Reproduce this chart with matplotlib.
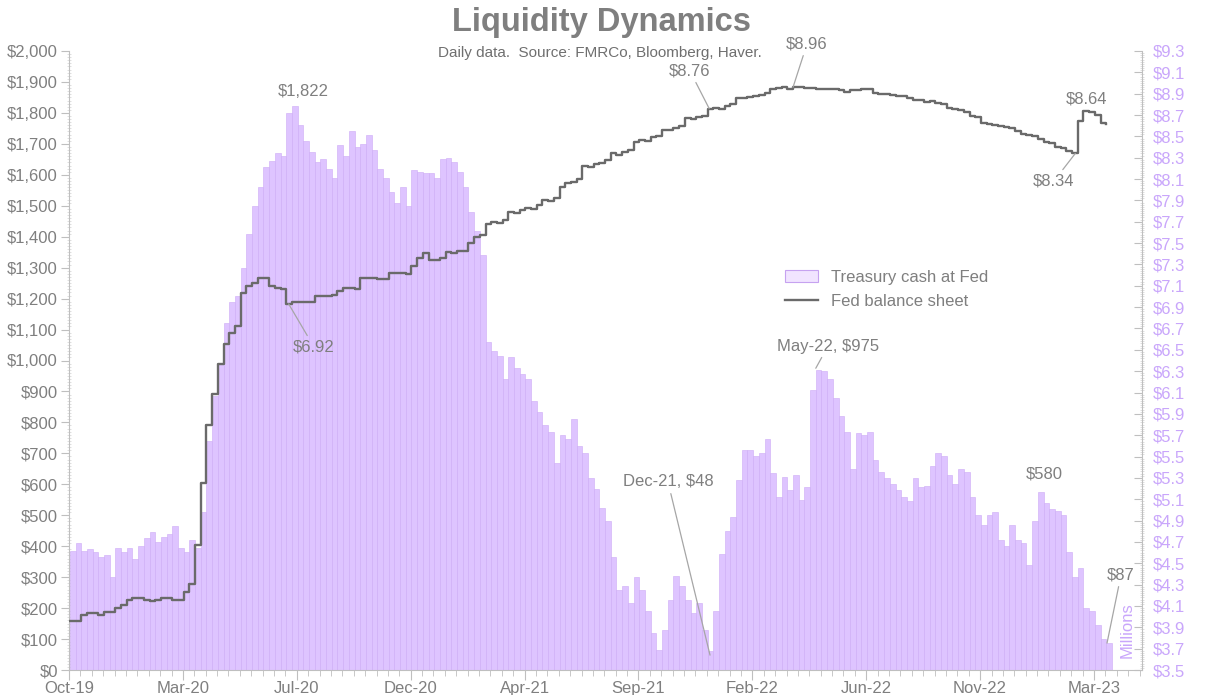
import numpy as np
import pandas as pd
import matplotlib
matplotlib.use("Agg")
import matplotlib.pyplot as plt
import matplotlib.dates as mdates
from matplotlib.patches import Patch
from matplotlib.lines import Line2D
from matplotlib.ticker import FixedLocator, MultipleLocator, FuncFormatter

plt.rcParams['font.family'] = ['Liberation Sans', 'DejaVu Sans']

# weekly readings (Wednesdays) taken off the daily chart
week_start = '2019-10-16'
n_weeks = 183

# Treasury cash at Fed, $bn
tga = [385, 410, 385, 390, 380, 365, 370, 300, 395, 380,
       395, 360, 400, 425, 445, 415, 430, 440, 465, 395,
       380, 420, 395, 510, 740, 885, 985, 1120, 1190, 1210,
       1300, 1410, 1500, 1560, 1625, 1645, 1670, 1660, 1800, 1822,
       1760, 1710, 1675, 1640, 1650, 1620, 1590, 1695, 1660, 1740,
       1690, 1700, 1730, 1680, 1620, 1590, 1545, 1510, 1560, 1500,
       1615, 1610, 1605, 1605, 1590, 1650, 1655, 1640, 1610, 1560,
       1480, 1420, 1340, 1060, 1030, 1015, 940, 1010, 975, 955,
       940, 870, 835, 790, 770, 670, 760, 745, 810, 725,
       700, 620, 585, 525, 480, 365, 260, 270, 215, 300,
       260, 190, 120, 65, 130, 225, 305, 270, 225, 185,
       215, 130, 60, 190, 375, 450, 495, 615, 710, 710,
       690, 700, 745, 635, 560, 625, 580, 630, 550, 590,
       905, 970, 965, 940, 880, 820, 770, 650, 765, 760,
       770, 680, 640, 620, 600, 580, 560, 545, 620, 590,
       595, 660, 700, 690, 630, 600, 650, 640, 560, 500,
       470, 500, 510, 420, 400, 470, 420, 410, 340, 480,
       575, 540, 520, 515, 500, 380, 300, 330, 200, 190,
       145, 100, 87]

# Fed balance sheet, $tn
fed = [3.96, 3.96, 4.02, 4.03, 4.03, 4.02, 4.04, 4.04, 4.08, 4.11,
       4.16, 4.17, 4.17, 4.16, 4.15, 4.16, 4.17, 4.17, 4.16, 4.16,
       4.23, 4.31, 4.67, 5.25, 5.80, 6.09, 6.37, 6.55, 6.66, 6.72,
       7.03, 7.10, 7.13, 7.17, 7.17, 7.10, 7.08, 7.07, 6.93, 6.95,
       6.95, 6.95, 6.95, 7.00, 7.00, 7.00, 7.01, 7.05, 7.08, 7.08,
       7.07, 7.17, 7.17, 7.17, 7.16, 7.16, 7.22, 7.22, 7.22, 7.21,
       7.29, 7.36, 7.41, 7.34, 7.34, 7.36, 7.42, 7.41, 7.43, 7.43,
       7.50, 7.56, 7.58, 7.68, 7.70, 7.69, 7.72, 7.79, 7.78, 7.81,
       7.83, 7.82, 7.86, 7.90, 7.89, 7.92, 8.03, 8.06, 8.07, 8.10,
       8.22, 8.21, 8.24, 8.25, 8.28, 8.34, 8.33, 8.35, 8.37, 8.45,
       8.47, 8.46, 8.49, 8.50, 8.56, 8.56, 8.58, 8.60, 8.67, 8.66,
       8.68, 8.69, 8.76, 8.77, 8.76, 8.78, 8.80, 8.86, 8.86, 8.87,
       8.88, 8.89, 8.91, 8.94, 8.95, 8.96, 8.94, 8.96, 8.96, 8.95,
       8.95, 8.94, 8.94, 8.94, 8.94, 8.93, 8.92, 8.93, 8.93, 8.94,
       8.94, 8.91, 8.90, 8.90, 8.89, 8.88, 8.88, 8.86, 8.84, 8.84,
       8.82, 8.83, 8.81, 8.80, 8.77, 8.76, 8.75, 8.73, 8.69, 8.68,
       8.63, 8.62, 8.61, 8.60, 8.59, 8.58, 8.55, 8.52, 8.51, 8.50,
       8.48, 8.45, 8.44, 8.40, 8.39, 8.36, 8.34, 8.64, 8.74, 8.73,
       8.70, 8.63, 8.62]

dates = pd.date_range(week_start, periods=n_weeks, freq='7D')

W, H = 1207, 695
gray = '#7f7f7f'
lav = '#c9a6fb'

fig = plt.figure(figsize=(W / 100, H / 100), dpi=100)
ax = fig.add_axes([69 / W, (H - 670) / H, (1142 - 69) / W, (670 - 51) / H])

# bars
ax.bar(dates, tga, width=7, align='edge', color='#dec4ff',
       edgecolor='#cdaaf5', linewidth=0.4, zorder=2)

x0 = pd.Timestamp('2019-10-15')
ax.set_xlim(x0, x0 + pd.Timedelta(days=1319))
ax.set_ylim(0, 2000)

major_x = [x0 + pd.Timedelta(days=140 * k) for k in range(10)]
minor_x = [x0 + pd.Timedelta(days=14 * k) for k in range(95)]
ax.xaxis.set_major_locator(FixedLocator(mdates.date2num(major_x)))
ax.xaxis.set_minor_locator(FixedLocator(mdates.date2num(minor_x)))
ax.xaxis.set_major_formatter(mdates.DateFormatter('%b-%y'))

ax.yaxis.set_major_locator(MultipleLocator(100))
ax.yaxis.set_minor_locator(MultipleLocator(10))
ax.yaxis.set_major_formatter(FuncFormatter(lambda v, p: '${:,.0f}'.format(v)))

for s in ['top', 'right']:
    ax.spines[s].set_visible(False)
for s in ['left', 'bottom']:
    ax.spines[s].set_color('#bfbfbf')

ax.tick_params(axis='y', which='major', direction='out', length=6, color='#bfbfbf',
               labelsize=12, labelcolor=gray, pad=2)
ax.tick_params(axis='y', which='minor', direction='inout', length=3, color='#d9d9d9')
ax.tick_params(axis='x', which='major', direction='out', length=7, color='#bfbfbf',
               labelsize=12, labelcolor=gray, pad=1)
ax.tick_params(axis='x', which='minor', direction='out', length=4, color='#bfbfbf')

# line on right axis
ax2 = ax.twinx()
ax2.plot(dates, fed, drawstyle='steps-post', color='#6a6a6a', lw=1.7, zorder=3)
ax2.set_ylim(3.5, 9.3)
ax2.yaxis.set_major_locator(FixedLocator(np.round(np.arange(3.5, 9.31, 0.2), 1)))
ax2.yaxis.set_minor_locator(MultipleLocator(0.02))
ax2.yaxis.set_major_formatter(FuncFormatter(lambda v, p: '${:.1f}'.format(v)))
for s in ['top', 'left', 'bottom']:
    ax2.spines[s].set_visible(False)
ax2.spines['right'].set_color('#bfbfbf')
ax2.tick_params(axis='y', which='major', direction='in', length=6, color='#bfbfbf',
                labelsize=12, labelcolor=lav, pad=8)
ax2.tick_params(axis='y', which='minor', direction='inout', length=3, color='#d9d9d9')


def fp(x, y):
    return (x, H - y)


arrow = dict(arrowstyle='-', color='#a6a6a6', lw=0.9, shrinkA=1, shrinkB=0)
lab = dict(textcoords='figure pixels', ha='center', va='center', fontsize=12, color=gray)

fig.text(601 / W, 1 - 23 / H, 'Liquidity Dynamics', ha='center', va='center',
         fontsize=23.5, fontweight='bold', color=gray)
fig.text(600 / W, 1 - 53 / H, 'Daily data.  Source: FMRCo, Bloomberg, Haver.',
         ha='center', va='center', fontsize=11, color='#6f6f6f')

ax.annotate('$1,822', xy=(dates[39], 1822), xytext=fp(303, 92), **lab)
ax2.annotate('$6.92', xy=(dates[38] + pd.Timedelta(days=3), 6.93), xytext=fp(314, 347),
             arrowprops=arrow, **lab)
ax2.annotate('$8.76', xy=(dates[112] + pd.Timedelta(days=2), 8.76), xytext=fp(690, 71),
             arrowprops=arrow, **lab)
ax2.annotate('$8.96', xy=(dates[127], 8.96), xytext=fp(807, 44),
             arrowprops=arrow, **lab)
ax2.annotate('$8.64', xy=(dates[178], 8.74), xytext=fp(1087, 99), **lab)
ax2.annotate('$8.34', xy=(dates[176] + pd.Timedelta(days=4), 8.34), xytext=fp(1054, 181),
             arrowprops=arrow, **lab)
ax.annotate('May-22, $975', xy=(dates[131], 975), xytext=fp(828, 346),
            arrowprops=arrow, **lab)
ax.annotate('Dec-21, $48', xy=(dates[112] + pd.Timedelta(days=3), 48), xytext=fp(668, 482),
            arrowprops=arrow, **lab)
ax.annotate('$580', xy=(dates[170], 575), xytext=fp(1044, 474), **lab)
ax.annotate('$87', xy=(dates[182] + pd.Timedelta(days=1), 87), xytext=fp(1121, 575),
            arrowprops=arrow, **lab)
fig.text(1127 / W, 1 - 630 / H, 'Millions', rotation=90, ha='center', va='center',
         fontsize=12, color=lav)

handles = [Patch(facecolor='#f1e4ff', edgecolor='#c6a2f0', linewidth=0.8),
           Line2D([], [], color='#6a6a6a', lw=1.7)]
fig.legend(handles, ['Treasury cash at Fed', 'Fed balance sheet'],
           loc='upper left', bbox_to_anchor=(773 / W, 1 - 258 / H), frameon=False,
           fontsize=12, labelcolor=gray, handlelength=2.0, handleheight=0.8,
           labelspacing=0.55, handletextpad=0.8, borderpad=0.2)

fig.savefig('out.png', dpi=100)
